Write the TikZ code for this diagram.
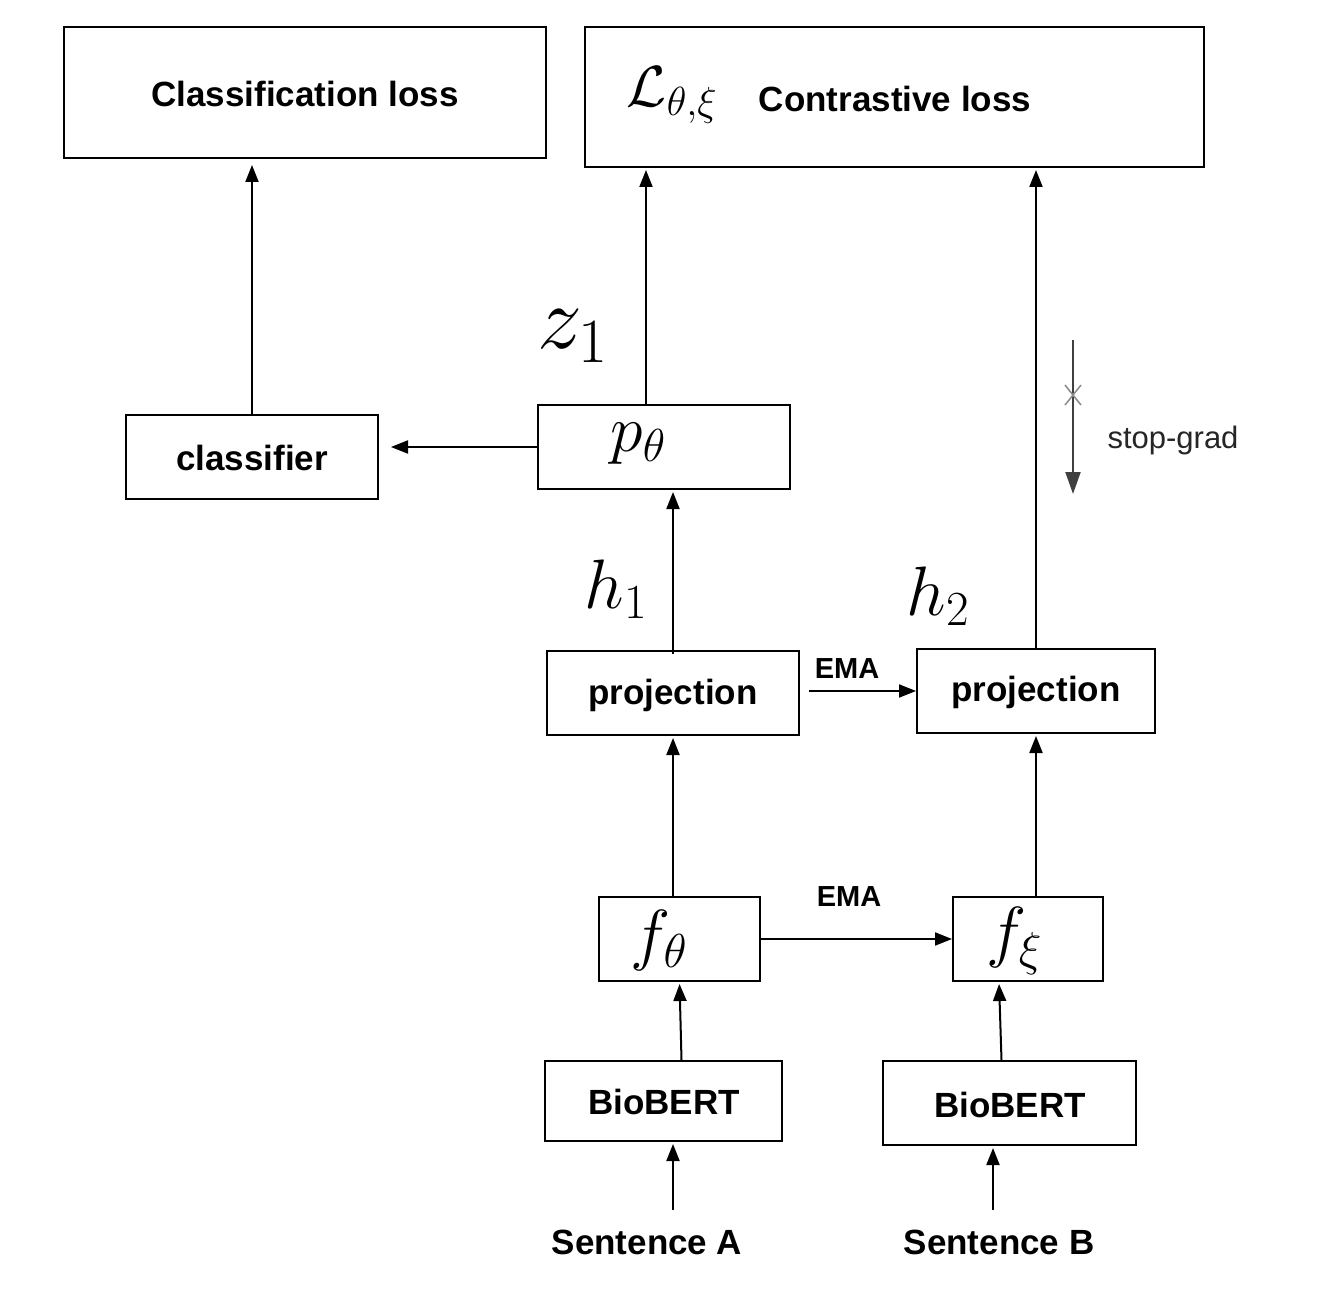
\documentclass[tikz,border=0pt]{standalone}
\usepackage{fix-cm}
\usepackage{fontspec}
\setmainfont{Liberation Sans}
\usetikzlibrary{arrows.meta}
\begin{document}
\begin{tikzpicture}[x=1pt,y=-1pt,
  box/.style={draw, line width=2pt, rectangle, inner sep=0pt},
  lbl/.style={font=\fontsize{35}{42}\selectfont\bfseries, inner sep=0pt},
  ema/.style={font=\fontsize{29}{34}\selectfont\bfseries, inner sep=0pt},
  mth/.style={inner sep=0pt},
  arr/.style={line width=2pt, -{Triangle[length=17pt,width=13pt]}},
]
\useasboundingbox (0,0) rectangle (1318,1308);
\fill[white] (0,0) rectangle (1318,1308);

% boxes
\node[box, minimum width=482pt, minimum height=131pt] (closs) at (305,92.5) {};
\node[box, minimum width=619pt, minimum height=140pt] (ctloss) at (894.5,97) {};
\node[box, minimum width=252pt, minimum height=84pt] (clf) at (252,457) {};
\node[box, minimum width=252pt, minimum height=84pt] (pth) at (664,447) {};
\node[box, minimum width=252pt, minimum height=84pt] (projL) at (673,693) {};
\node[box, minimum width=238pt, minimum height=84pt] (projR) at (1036,691) {};
\node[box, minimum width=161pt, minimum height=84pt] (fth) at (679.5,939) {};
\node[box, minimum width=150pt, minimum height=84pt] (fxi) at (1028,939) {};
\node[box, minimum width=237pt, minimum height=80pt] (bioL) at (663.5,1101) {};
\node[box, minimum width=253pt, minimum height=84pt] (bioR) at (1009.5,1103) {};

% texts
\node[lbl] (tcloss) at (305,94) {Classification loss};
\node[lbl] (tctloss) at (895,99) {Contrastive loss};
\node[mth, font=\fontsize{58}{66}\selectfont] (tL) at (672,95) {$\mathcal{L}_{\theta,\xi}$};
\node[lbl] (tclf) at (252,458) {classifier};
\node[mth, font=\fontsize{66}{74}\selectfont] (tpth) at (638,444) {$p_\theta$};
\node[lbl] (tprojL) at (673,695) {projection};
\node[lbl] (tprojR) at (1036,692) {projection};
\node[mth, font=\fontsize{68}{76}\selectfont] (tfth) at (659,940) {$f_\theta$};
\node[mth, font=\fontsize{68}{76}\selectfont] (tfxi) at (1014,941) {$f_\xi$};
\node[lbl] (tbioL) at (664,1102) {BioBERT};
\node[lbl] (tbioR) at (1010,1105) {BioBERT};
\node[lbl] (sentA) at (647,1242) {Sentence A};
\node[lbl] (sentB) at (999,1242) {Sentence B};
\node[mth, font=\fontsize{90}{98}\selectfont] (z1) at (573,336) {$z_1$};
\node[mth, font=\fontsize{70}{78}\selectfont] (h1) at (616,589) {$h_1$};
\node[mth, font=\fontsize{70}{78}\selectfont] (h2) at (938,596) {$h_2$};
\node[ema] (ema1) at (847,669) {EMA};
\node[ema] (ema2) at (849,897) {EMA};
\node[inner sep=0pt, font=\fontsize{31}{36}\selectfont, text=black!85] (sg) at (1173,440) {stop-grad};

% connector coordinates
\coordinate (sa) at (673,1210);
\coordinate (sb) at (993,1210);
\coordinate (sgtop) at (1073,340);
\coordinate (sgbot) at (1073,494);
\coordinate (sgx) at (1073,395);

% connectors
\draw[arr, shorten >=6pt] (clf.north) -- (clf.north |- closs.south);
\draw[arr, shorten >=2pt] ([xshift=-18pt]pth.north) -- ([xshift=-18pt]pth.north |- ctloss.south);
\draw[arr, shorten >=2pt] (projR.north) -- (projR.north |- ctloss.south);
\draw[arr, shorten >=12pt] (pth.west) -- (pth.west -| clf.east);
\draw[arr, shorten >=2pt] ([yshift=-4pt]projL.north) -- (projL.north |- pth.south);
\draw[arr, shorten >=2pt] (fth.north -| projL.south) -- (projL.south);
\draw[arr, shorten >=2pt] (fxi.north -| projR.south) -- (projR.south);
\draw[arr, shorten >=2pt] ([xshift=18pt]bioL.north) -- (fth.south);
\draw[arr, shorten >=2pt] ([xshift=-8pt]bioR.north) -- ([xshift=-29pt]fxi.south);
\draw[arr, shorten >=2pt] (sa) -- (sa |- bioL.south);
\draw[arr, shorten >=2pt] (sb) -- (sb |- bioR.south);
\draw[arr, shorten <=9pt] (projL.east |- projR.west) -- (projR.west);
\draw[arr] (fth.east) -- (fxi.west);

% stop-grad
\draw[line width=2pt, black!75, -{Triangle[length=22pt,width=15pt]}] (sgtop) -- (sgbot);
\draw[line width=1.5pt, black!45] ([xshift=-8pt,yshift=-10pt]sgx) -- ([xshift=8pt,yshift=10pt]sgx);
\draw[line width=1.5pt, black!45] ([xshift=8pt,yshift=-10pt]sgx) -- ([xshift=-8pt,yshift=10pt]sgx);
\end{tikzpicture}
\end{document}
